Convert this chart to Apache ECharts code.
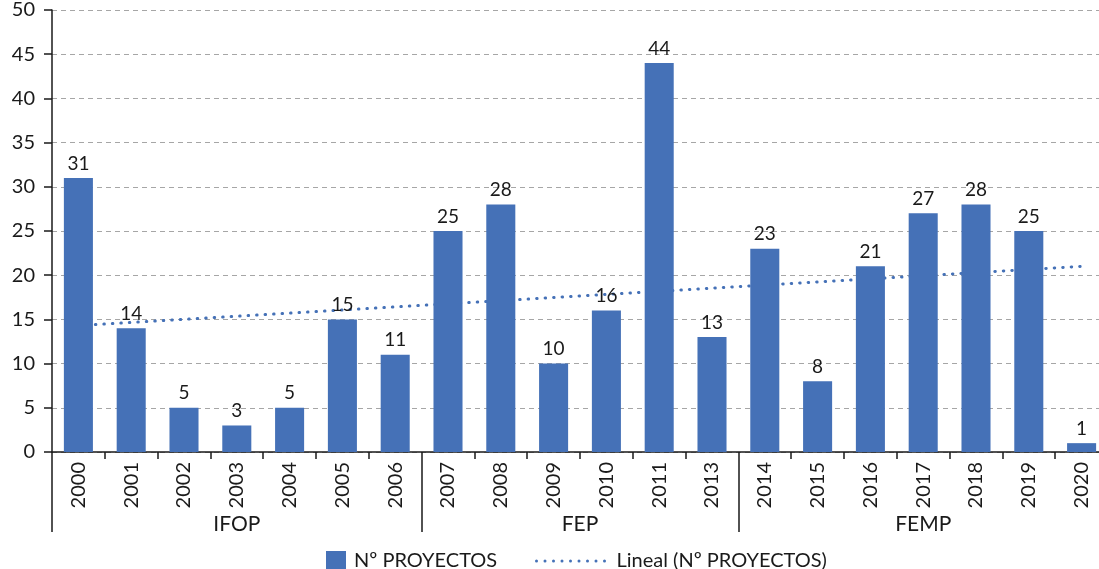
<!DOCTYPE html>
<html>
<head>
<meta charset="utf-8">
<script src="https://cdn.jsdelivr.net/npm/echarts@6/dist/echarts.min.js"></script>
<style>
html,body{margin:0;padding:0;background:#fff;}
#c{width:1099px;height:569px;}
</style>
</head>
<body>
<div id="c"></div>
<script>
var years = ['2000','2001','2002','2003','2004','2005','2006','2007','2008','2009','2010','2011','2013','2014','2015','2016','2017','2018','2019','2020'];
var projects = [31,14,5,3,5,15,11,25,28,10,16,44,13,23,8,21,27,28,25,1];
var groupNames = ['IFOP','FEP','FEMP'];
var groupSizes = [7,6,7];
var trendStart = 14.3;
var trendEnd = 21.0;
var yTicks = [0,5,10,15,20,25,30,35,40,45,50];

var FONT = 'Lato';
var BLUE = '#4571B7';

// trend series: only endpoints, joined by a straight line
var trend = years.map(function(_, i){
  if (i === 0) return trendStart;
  if (i === years.length - 1) return trendEnd;
  return null;
});

// group boundaries and centres, in category units
var bounds = [0], centres = [], acc = 0;
groupSizes.forEach(function(n){ centres.push(acc + n/2); acc += n; bounds.push(acc); });

// dotted legend icon
var dotPath = 'path://';
for (var k = 0; k < 9; k++) {
  var x = k * 8.5;
  dotPath += 'M' + x + ',1.5a1.5,1.5 0 1,0 3,0a1.5,1.5 0 1,0 -3,0z';
}

var chart = echarts.init(document.getElementById('c'), null, {renderer:'canvas'});
chart.setOption({
  animation: false,
  textStyle: {fontFamily: FONT},
  grid: {left: 52, top: 10, width: 1056, height: 442, containLabel: false, outerBoundsMode: 'none'},
  legend: [{
    data: [{name: 'Nº PROYECTOS', icon: 'rect'}],
    left: 321, top: 546,
    itemWidth: 20, itemHeight: 20,
    textStyle: {fontFamily: FONT, fontSize: 20, color: '#1a1a1a', padding: [0,0,0,3]}
  },{
    data: [{name: 'Lineal (Nº PROYECTOS)', icon: dotPath}],
    left: 530, top: 546,
    itemWidth: 76, itemHeight: 3,
    textStyle: {fontFamily: FONT, fontSize: 20, color: '#1a1a1a', padding: [0,0,0,3]}
  }],
  xAxis: [{
    type: 'category',
    data: years,
    boundaryGap: true,
    axisLine: {show: true, lineStyle: {color: '#1a1a1a', width: 1.5}},
    axisTick: {show: true, interval: 0, length: 7, lineStyle: {color: '#1a1a1a', width: 1.5}},
    axisLabel: {interval: 0, rotate: 90, margin: 10, fontFamily: FONT, fontSize: 20, color: '#1a1a1a'},
    splitLine: {show: false}
  },{
    type: 'value',
    position: 'bottom',
    min: 0, max: years.length,
    axisLine: {show: false},
    axisTick: {show: true, customValues: bounds, length: 80, lineStyle: {color: '#1a1a1a', width: 1.5}},
    axisLabel: {
      customValues: centres, margin: 62, fontFamily: FONT, fontSize: 21, color: '#1a1a1a',
      formatter: function(v){ var i = centres.indexOf(v); return i >= 0 ? groupNames[i] : ''; }
    },
    splitLine: {show: false}
  }],
  yAxis: {
    type: 'value',
    min: 0, max: 50, interval: 5,
    axisLine: {show: true, lineStyle: {color: '#1a1a1a', width: 1.5}},
    axisTick: {show: true, length: 8, lineStyle: {color: '#1a1a1a', width: 1.5}},
    axisLabel: {
      margin: 17, fontFamily: FONT, fontSize: 20, color: '#1a1a1a',
      customValues: yTicks
    },
    splitLine: {show: true, lineStyle: {color: '#a6a6a6', width: 1.2, type: [5,4]}}
  },
  series: [{
    name: 'Nº PROYECTOS',
    type: 'bar',
    xAxisIndex: 0,
    data: projects,
    barCategoryGap: '45%',
    z: 3,
    itemStyle: {color: BLUE},
    label: {show: true, position: 'top', distance: 5, fontFamily: FONT, fontSize: 19, color: '#1a1a1a'}
  },{
    name: 'Lineal (Nº PROYECTOS)',
    type: 'line',
    xAxisIndex: 0,
    data: trend,
    connectNulls: true,
    showSymbol: false,
    symbol: 'none',
    z: 1,
    itemStyle: {color: BLUE},
    lineStyle: {color: BLUE, width: 3, type: [0.5, 8], cap: 'round'}
  }]
});
</script>
</body>
</html>
